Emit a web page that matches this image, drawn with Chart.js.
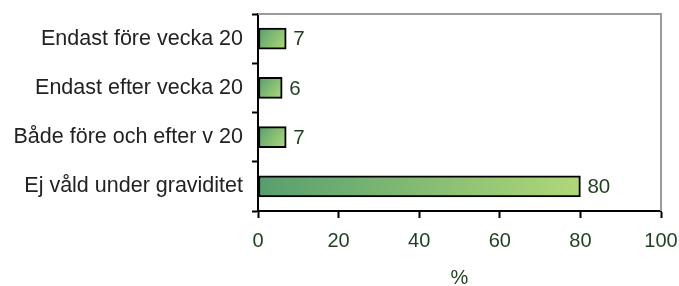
<html lang="sv">
<head>
    <meta charset="UTF-8">
    <title>Våld under graviditet</title>
    <script src="https://cdn.jsdelivr.net/npm/chart.js"></script>
    <style>
        html, body { margin: 0; padding: 0; background: #fff; }
        #wrap { width: 679px; height: 286px; }
    </style>
</head>
<body>
    <div id="wrap"><canvas id="barChart" width="679" height="286"></canvas></div>

    <script>
        const categories = ['Endast före vecka 20', 'Endast efter vecka 20', 'Både före och efter v 20', 'Ej våld under graviditet'];
        const percentValues = [7, 6, 7, 80];
        const xTicks = [0, 20, 40, 60, 80, 100];

        const FONT = 'Arial, "Liberation Sans", sans-serif';
        const GREEN_TEXT = '#1f3f1f';

        function barGradient(context) {
            const chart = context.chart;
            const xs = chart.scales.x, ys = chart.scales.y;
            if (!xs || !ys || context.type !== 'data') return '#8cc070';
            const x0 = xs.getPixelForValue(0);
            const x1 = xs.getPixelForValue(context.raw);
            const yc = ys.getPixelForValue(context.dataIndex);
            if (!isFinite(x0) || !isFinite(x1) || !isFinite(yc)) return '#8cc070';
            const g = chart.ctx.createLinearGradient(x0, yc - 10, x1, yc + 10);
            g.addColorStop(0, '#579e6e');
            g.addColorStop(1, '#b0d878');
            return g;
        }

        // value labels next to each bar
        const valueLabels = {
            id: 'valueLabels',
            afterDatasetsDraw(chart) {
                const ctx = chart.ctx;
                ctx.save();
                ctx.font = '20.5px ' + FONT;
                ctx.fillStyle = GREEN_TEXT;
                ctx.textAlign = 'left';
                ctx.textBaseline = 'middle';
                chart.getDatasetMeta(0).data.forEach((bar, i) => {
                    ctx.fillText(String(percentValues[i]), bar.x + 7, bar.y + 1);
                });
                ctx.restore();
            }
        };

        // grey frame on top and right of the plot
        const plotFrame = {
            id: 'plotFrame',
            beforeDatasetsDraw(chart) {
                const a = chart.chartArea;
                const ctx = chart.ctx;
                ctx.save();
                ctx.strokeStyle = '#9a9a9a';
                ctx.lineWidth = 2;
                ctx.beginPath();
                ctx.moveTo(a.left, a.top);
                ctx.lineTo(a.right, a.top);
                ctx.lineTo(a.right, a.bottom);
                ctx.stroke();
                ctx.restore();
            }
        };

        new Chart(document.getElementById('barChart').getContext('2d'), {
            type: 'bar',
            data: {
                labels: categories,
                datasets: [{
                    data: percentValues,
                    backgroundColor: barGradient,
                    borderColor: '#000',
                    borderWidth: 2,
                    borderSkipped: false,
                    barThickness: 21
                }]
            },
            plugins: [valueLabels, plotFrame],
            options: {
                indexAxis: 'y',
                responsive: false,
                animation: false,
                layout: { padding: { top: 14, right: 18, left: 0, bottom: 0 } },
                plugins: {
                    legend: { display: false },
                    tooltip: { enabled: false }
                },
                scales: {
                    x: {
                        min: 0,
                        max: 100,
                        afterBuildTicks: (scale) => { scale.ticks = xTicks.map(v => ({ value: v })); },
                        afterFit: (scale) => {
                            scale.height = 75;
                            scale.paddingLeft = 0;
                            scale.paddingRight = 0;
                        },
                        grid: {
                            drawOnChartArea: false,
                            drawTicks: true,
                            tickLength: 7,
                            tickColor: '#000',
                            tickWidth: 2
                        },
                        border: { display: true, color: '#000', width: 2 },
                        ticks: {
                            color: GREEN_TEXT,
                            font: { family: FONT, size: 20 },
                            padding: 11,
                            maxRotation: 0
                        },
                        title: {
                            display: true,
                            text: '%',
                            color: GREEN_TEXT,
                            font: { family: FONT, size: 20 },
                            padding: { top: 9, bottom: -4 }
                        }
                    },
                    y: {
                        afterFit: (scale) => {
                            scale.width = 258;
                            scale.paddingTop = 0;
                            scale.paddingBottom = 0;
                        },
                        grid: {
                            offset: true,
                            drawOnChartArea: false,
                            drawTicks: true,
                            tickLength: 6,
                            tickColor: '#000',
                            tickWidth: 2
                        },
                        border: { display: true, color: '#000', width: 2 },
                        ticks: {
                            color: '#222',
                            font: { family: FONT, size: 21.5 },
                            padding: 9
                        }
                    }
                }
            }
        });
    </script>
</body>
</html>
